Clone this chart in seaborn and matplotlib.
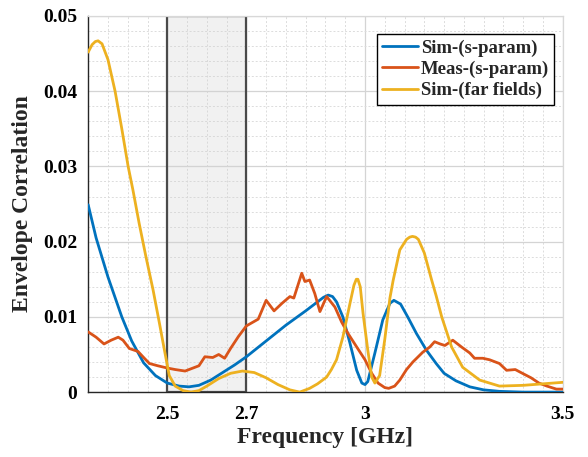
import matplotlib
matplotlib.use("Agg")
import matplotlib.pyplot as plt
import seaborn as sns
import pandas as pd
from matplotlib.patches import Rectangle
from matplotlib.ticker import MultipleLocator

# ---------------- data ----------------
sim_s_f = [2.30, 2.32, 2.35, 2.385, 2.41, 2.44, 2.47, 2.50, 2.53, 2.555, 2.58, 2.61,
           2.64, 2.67, 2.70, 2.75, 2.80, 2.85, 2.88, 2.895, 2.907, 2.918, 2.928,
           2.944, 2.962, 2.979, 2.992, 3.0, 3.007, 3.025, 3.045, 3.063, 3.073,
           3.09, 3.108, 3.13, 3.155, 3.18, 3.20, 3.23, 3.265, 3.30, 3.34, 3.40, 3.50]
sim_s_v = [0.0249, 0.0205, 0.0153, 0.0100, 0.0068, 0.0039, 0.0022, 0.0012, 0.0008,
           0.0007, 0.0009, 0.0016, 0.0026, 0.0036, 0.0047, 0.0068, 0.0089, 0.0108,
           0.0120, 0.0126, 0.0129, 0.0127, 0.0120, 0.0100, 0.0065, 0.0029, 0.0012,
           0.0010, 0.0014, 0.0052, 0.0096, 0.0118, 0.0122, 0.0117, 0.0100, 0.0078,
           0.0056, 0.0038, 0.0025, 0.0015, 0.0007, 0.0003, 0.0001, 0.0000, 0.0000]

meas_f = [2.30, 2.32, 2.34, 2.358, 2.376, 2.388, 2.404, 2.426, 2.442, 2.455, 2.476,
          2.50, 2.52, 2.545, 2.57, 2.58, 2.595, 2.615, 2.63, 2.645, 2.66, 2.68,
          2.70, 2.72, 2.73, 2.75, 2.77, 2.79, 2.81, 2.82, 2.84, 2.848, 2.86, 2.873,
          2.886, 2.903, 2.924, 2.941, 2.957, 2.979, 3.0, 3.017, 3.033, 3.05, 3.06,
          3.075, 3.088, 3.105, 3.121, 3.146, 3.164, 3.176, 3.19, 3.202, 3.222,
          3.244, 3.265, 3.277, 3.298, 3.315, 3.34, 3.358, 3.38, 3.398, 3.42, 3.44,
          3.46, 3.484, 3.50]
meas_v = [0.0080, 0.0073, 0.0064, 0.0069, 0.0073, 0.0069, 0.0058, 0.0054, 0.0045,
          0.0038, 0.0035, 0.0032, 0.0030, 0.0028, 0.0033, 0.0035, 0.0047, 0.0046,
          0.0050, 0.0045, 0.0058, 0.0074, 0.0088, 0.0094, 0.0097, 0.0122, 0.0108,
          0.0118, 0.0127, 0.0125, 0.0158, 0.0147, 0.0149, 0.0131, 0.0107, 0.0127,
          0.0113, 0.0093, 0.0078, 0.0060, 0.0043, 0.0025, 0.0012, 0.0006, 0.0005,
          0.0008, 0.0016, 0.0030, 0.0040, 0.0053, 0.0060, 0.0067, 0.0064, 0.0062,
          0.0069, 0.0060, 0.0052, 0.0045, 0.0045, 0.0043, 0.0038, 0.0029, 0.0030,
          0.0025, 0.0019, 0.0012, 0.0008, 0.0004, 0.0004]

sim_ff_f = [2.30, 2.31, 2.318, 2.325, 2.335, 2.35, 2.368, 2.385, 2.401, 2.413, 2.429,
            2.446, 2.464, 2.48, 2.492, 2.505, 2.52, 2.54, 2.56, 2.58, 2.60, 2.63,
            2.66, 2.69, 2.72, 2.75, 2.78, 2.81, 2.835, 2.86, 2.88, 2.903, 2.915,
            2.928, 2.944, 2.962, 2.972, 2.978, 2.982, 2.988, 2.995, 3.007, 3.017,
            3.025, 3.037, 3.05, 3.063, 3.071, 3.088, 3.105, 3.113, 3.12, 3.128,
            3.135, 3.15, 3.168, 3.18, 3.194, 3.219, 3.247, 3.29, 3.34, 3.40, 3.45, 3.50]
sim_ff_v = [0.0452, 0.0462, 0.0466, 0.0467, 0.0463, 0.0442, 0.0400, 0.0350, 0.0300,
            0.0269, 0.0224, 0.0180, 0.0136, 0.0092, 0.0058, 0.0022, 0.0008, 0.0002,
            0.0000, 0.0002, 0.0008, 0.0018, 0.0025, 0.0028, 0.0026, 0.0019, 0.0010,
            0.0003, 0.0000, 0.0005, 0.0011, 0.0020, 0.0030, 0.0043, 0.0073, 0.0118,
            0.0142, 0.0150, 0.0150, 0.0140, 0.0105, 0.0056, 0.0020, 0.0012, 0.0022,
            0.0070, 0.0125, 0.0148, 0.0189, 0.0203, 0.0206, 0.0207, 0.0206, 0.0203,
            0.0185, 0.0150, 0.0128, 0.0100, 0.0060, 0.0033, 0.0016, 0.0008, 0.0009,
            0.0011, 0.0013]

labels = ["Sim-(s-param)", "Meas-(s-param)", "Sim-(far fields)"]
colors = ["#0072BD", "#D95319", "#EDB120"]
band = (2.5, 2.7)
xticks = [2.5, 2.7, 3.0, 3.5]
xticklabels = ["2.5", "2.7", "3", "3.5"]
yticks = [0, 0.01, 0.02, 0.03, 0.04, 0.05]
yticklabels = ["0", "0.01", "0.02", "0.03", "0.04", "0.05"]

# ---------------- plotting ----------------
sns.set_theme(style="white")
plt.rcParams["font.family"] = ["Liberation Serif", "DejaVu Serif"]
plt.rcParams["font.weight"] = "bold"

fig = plt.figure(figsize=(5.88, 4.57), dpi=100)
ax = fig.add_axes([0.150, 0.142, 0.807, 0.823])

series = [(sim_s_f, sim_s_v), (meas_f, meas_v), (sim_ff_f, sim_ff_v)]
for (f, v), lab, col in zip(series, labels, colors):
    df = pd.DataFrame({"f": f, "v": v})
    sns.lineplot(data=df, x="f", y="v", ax=ax, color=col, linewidth=2.0,
                 label=lab, estimator=None, sort=False, zorder=3)

ax.add_patch(Rectangle((band[0], 0), band[1] - band[0], 0.05,
                       facecolor=(0.82, 0.82, 0.82, 0.3), edgecolor="#4a4a4a",
                       linewidth=1.6, zorder=2))

ax.set_xlim(2.3, 3.5)
ax.set_ylim(0, 0.05)
ax.set_xticks(xticks)
ax.set_xticklabels(xticklabels)
ax.set_yticks(yticks)
ax.set_yticklabels(yticklabels)
ax.xaxis.set_minor_locator(MultipleLocator(0.05))
ax.yaxis.set_minor_locator(MultipleLocator(0.002))

ax.grid(which="major", color="#d4d4d4", linewidth=0.9, linestyle="-", zorder=0)
ax.grid(which="minor", color="#dcdcdc", linewidth=0.7, linestyle=(0, (2, 2)), zorder=0)
ax.set_axisbelow(True)

for s in ["left", "bottom"]:
    ax.spines[s].set_color("#262626")
    ax.spines[s].set_linewidth(1.0)
for s in ["top", "right"]:
    ax.spines[s].set_color("#d8d8d8")
    ax.spines[s].set_linewidth(0.9)

ax.tick_params(axis="both", which="major", direction="in", length=4, width=1.0,
               labelsize=14, pad=8, colors="#262626", labelcolor="black")
ax.tick_params(axis="x", which="major", pad=10)
ax.tick_params(which="minor", length=0)
for t in ax.get_xticklabels() + ax.get_yticklabels():
    t.set_fontweight("bold")

ax.set_xlabel("Frequency [GHz]", fontsize=17, fontweight="bold", labelpad=3)
ax.set_ylabel("Envelope Correlation", fontsize=17, fontweight="bold", labelpad=7)

leg = ax.legend(loc="upper right", bbox_to_anchor=(0.99, 0.962), fontsize=13.5,
                frameon=True, fancybox=False, edgecolor="black", framealpha=1,
                handlelength=1.9, handletextpad=0.15, labelspacing=0.22,
                borderpad=0.28, borderaxespad=0.2)
leg.get_frame().set_linewidth(1.0)
for t in leg.get_texts():
    t.set_fontweight("bold")

fig.savefig("out.png", dpi=100)
